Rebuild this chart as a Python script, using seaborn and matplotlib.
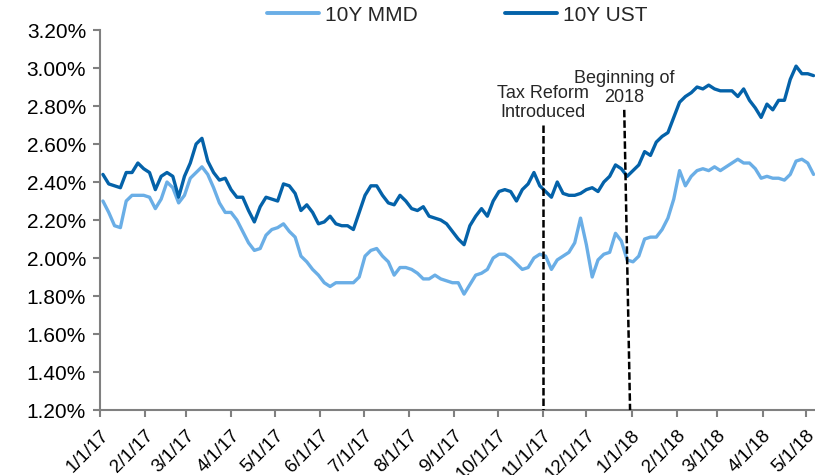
import matplotlib
matplotlib.use('Agg')
import matplotlib.pyplot as plt
import seaborn as sns
import pandas as pd

# sampled every 4 days from 2017-01-03
start_date = '2017-01-03'
mmd = [2.30, 2.24, 2.17, 2.16, 2.30, 2.33, 2.33, 2.33, 2.32, 2.26,
       2.31, 2.40, 2.37, 2.29, 2.33, 2.42, 2.45, 2.48, 2.44, 2.37,
       2.29, 2.24, 2.24, 2.20, 2.14, 2.08, 2.04, 2.05, 2.12, 2.15,
       2.16, 2.18, 2.14, 2.11, 2.01, 1.98, 1.94, 1.91, 1.87, 1.85,
       1.87, 1.87, 1.87, 1.87, 1.90, 2.01, 2.04, 2.05, 2.01, 1.98,
       1.91, 1.95, 1.95, 1.94, 1.92, 1.89, 1.89, 1.91, 1.89, 1.88,
       1.87, 1.87, 1.81, 1.86, 1.91, 1.92, 1.94, 2.00, 2.02, 2.02,
       2.00, 1.97, 1.94, 1.95, 2.00, 2.02, 2.01, 1.94, 1.99, 2.01,
       2.03, 2.08, 2.21, 2.07, 1.90, 1.99, 2.02, 2.03, 2.13, 2.09,
       1.99, 1.98, 2.01, 2.10, 2.11, 2.11, 2.15, 2.21, 2.31, 2.46,
       2.38, 2.43, 2.46, 2.47, 2.46, 2.48, 2.46, 2.48, 2.50, 2.52,
       2.50, 2.50, 2.47, 2.42, 2.43, 2.42, 2.42, 2.41, 2.44, 2.51,
       2.52, 2.50, 2.44]
ust = [2.44, 2.39, 2.38, 2.37, 2.45, 2.45, 2.50, 2.47, 2.45, 2.36,
       2.43, 2.45, 2.43, 2.32, 2.43, 2.50, 2.60, 2.63, 2.51, 2.45,
       2.41, 2.42, 2.36, 2.32, 2.32, 2.25, 2.19, 2.27, 2.32, 2.31,
       2.30, 2.39, 2.38, 2.34, 2.25, 2.28, 2.24, 2.18, 2.19, 2.22,
       2.18, 2.17, 2.17, 2.15, 2.24, 2.33, 2.38, 2.38, 2.33, 2.29,
       2.28, 2.33, 2.30, 2.26, 2.25, 2.27, 2.22, 2.21, 2.20, 2.18,
       2.14, 2.10, 2.07, 2.17, 2.22, 2.26, 2.22, 2.30, 2.35, 2.36,
       2.35, 2.30, 2.36, 2.39, 2.45, 2.38, 2.35, 2.32, 2.40, 2.34,
       2.33, 2.33, 2.34, 2.36, 2.37, 2.35, 2.40, 2.43, 2.49, 2.47,
       2.43, 2.46, 2.49, 2.56, 2.54, 2.61, 2.64, 2.66, 2.74, 2.82,
       2.85, 2.87, 2.90, 2.89, 2.91, 2.89, 2.88, 2.88, 2.88, 2.85,
       2.89, 2.83, 2.79, 2.74, 2.81, 2.78, 2.83, 2.83, 2.94, 3.01,
       2.97, 2.97, 2.96]

tick_dates = ['2017-01-01', '2017-02-01', '2017-03-01', '2017-04-01', '2017-05-01',
              '2017-06-01', '2017-07-01', '2017-08-01', '2017-09-01', '2017-10-01',
              '2017-11-01', '2017-12-01', '2018-01-01', '2018-02-01', '2018-03-01',
              '2018-04-01', '2018-05-01']
tick_labels = ['1/1/17', '2/1/17', '3/1/17', '4/1/17', '5/1/17', '6/1/17', '7/1/17',
               '8/1/17', '9/1/17', '10/1/17', '11/1/17', '12/1/17', '1/1/18', '2/1/18',
               '3/1/18', '4/1/18', '5/1/18']
y_ticks = [1.2, 1.4, 1.6, 1.8, 2.0, 2.2, 2.4, 2.6, 2.8, 3.0, 3.2]

# dashed event markers: (label, date at top, date at bottom, top value)
events = [('Tax Reform\nIntroduced', '2017-11-01', '2017-11-01', 2.70),
          ('Beginning of\n2018', '2017-12-27', '2017-12-31', 2.78)]

dates = pd.date_range(start_date, periods=len(ust), freq='4D')
df = pd.DataFrame({'date': list(dates) * 2,
                   'rate': mmd + ust,
                   'series': ['10Y MMD'] * len(mmd) + ['10Y UST'] * len(ust)})

sns.set_style('white')
plt.rcParams['font.family'] = ['Liberation Sans', 'DejaVu Sans']

fig = plt.figure(figsize=(8.15, 4.75), dpi=100)
ax = fig.add_axes([0.1227, 0.1368, 0.8773, 0.8])

sns.lineplot(data=df, x='date', y='rate', hue='series', ax=ax, linewidth=2.4,
             palette={'10Y MMD': '#6aaee6', '10Y UST': '#0462a9'}, legend=False)

for label, top_date, bot_date, top_val in events:
    ax.plot([pd.Timestamp(top_date), pd.Timestamp(bot_date)], [top_val, 1.2],
            color='black', lw=1.8, ls=(0, (3.0, 1.2)), zorder=3)
    ax.text(pd.Timestamp(top_date), top_val + 0.02, label, ha='center', va='bottom',
            fontsize=13, linespacing=1.15)

ax.set_xlim(pd.Timestamp('2017-01-01'), pd.Timestamp('2018-05-07'))
ax.set_ylim(1.2, 3.2)
ax.set_yticks(y_ticks)
ax.set_yticklabels(['{:.2f}%'.format(v) for v in y_ticks], fontsize=15)
ax.set_xticks([pd.Timestamp(d) for d in tick_dates])
ax.set_xticklabels(tick_labels, fontsize=13.5, rotation=45, ha='right',
                   rotation_mode='anchor')
ax.set_xlabel('')
ax.set_ylabel('')

sns.despine(ax=ax)
for side in ['left', 'bottom']:
    ax.spines[side].set_color('#808080')
    ax.spines[side].set_linewidth(1.5)
ax.tick_params(axis='both', which='major', length=5, width=1.5, color='#808080',
               labelcolor='black', bottom=True, left=True)
ax.tick_params(axis='y', pad=5)
ax.tick_params(axis='x', pad=7)

handles = [plt.Line2D([], [], color='#6aaee6', lw=2.8),
           plt.Line2D([], [], color='#0462a9', lw=2.8)]
fig.legend(handles, ['10Y MMD', '10Y UST'], loc='center', ncol=2,
           bbox_to_anchor=(0.561, 0.968), frameon=False, fontsize=15,
           handlelength=2.5, handletextpad=0.3, columnspacing=4.2)

fig.savefig('out.png', dpi=100)
